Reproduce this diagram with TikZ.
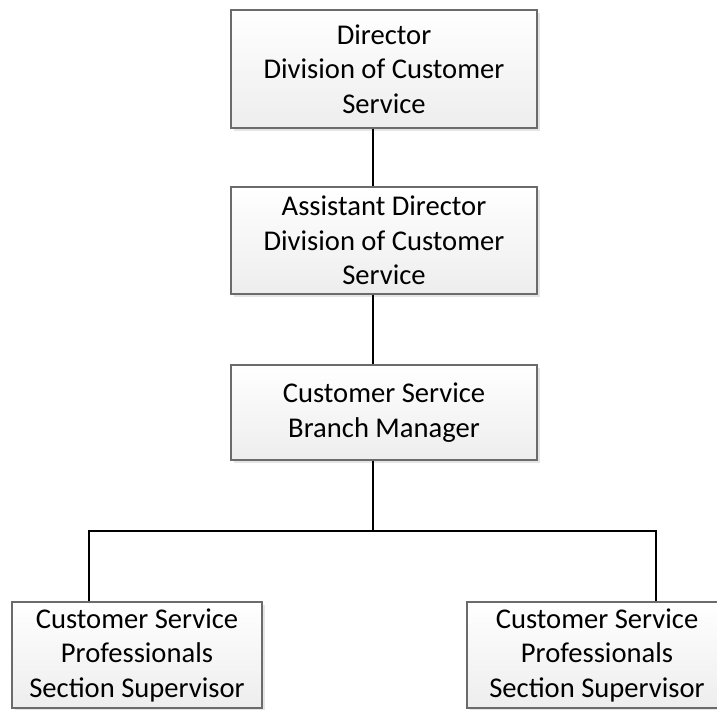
\documentclass[tikz,border=0pt]{standalone}
\usepackage{fontspec}
\setmainfont{Carlito}
\usetikzlibrary{shadows}

\begin{document}
\begin{tikzpicture}[x=1pt,y=-1pt,
    post/.style={draw=black!58,line width=1.2pt,top color=white,bottom color=black!7,
      drop shadow={shadow xshift=3pt,shadow yshift=-3pt,fill=black!10,opacity=1},
      align=center,inner sep=0pt,font=\fontsize{28.6}{34.5}\selectfont},
    link/.style={line width=1.8pt,black}]
  \useasboundingbox (0,0) rectangle (717,709);
  \node[post,minimum width=306pt,minimum height=118pt] (dir) at (384,69) {Director\\Division of Customer\\Service};
  \node[post,minimum width=306pt,minimum height=107pt] (asst) at (384,240.5) {Assistant Director\\Division of Customer\\Service};
  \node[post,minimum width=306pt,minimum height=95pt] (mgr) at (384,412.5) {Customer Service\\Branch Manager};
  \node[post,minimum width=250pt,minimum height=106pt] (csl) at (137,655) {Customer Service\\Professionals\\Section Supervisor};
  \node[post,minimum width=260pt,minimum height=106pt] (csr) at (597,655) {Customer Service\\Professionals\\Section Supervisor};
  \coordinate (spine) at (373,531);
  \coordinate (lft) at (89,531);
  \coordinate (rgt) at (656,531);
  \draw[link] (dir.south -| spine) -- (asst.north -| spine);
  \draw[link] (asst.south -| spine) -- (mgr.north -| spine);
  \draw[link] (mgr.south -| spine) -- (spine);
  \draw[link] (csl.north -| lft) -- (lft) -- (rgt) -- (csr.north -| rgt);
\end{tikzpicture}
\end{document}
